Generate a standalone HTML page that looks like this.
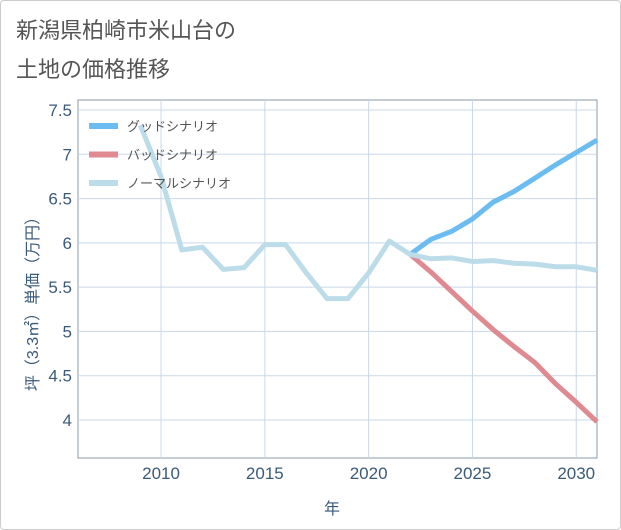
<!DOCTYPE html>
<html><head><meta charset="utf-8"><style>
body{margin:0;background:#fff;font-family:"Liberation Sans","Noto Sans CJK JP",sans-serif}
#wrap{position:relative;width:619px;height:528px;border:1px solid #ccc;border-radius:4px;background:#fff}
</style></head><body>
<div id="wrap">
<svg id="svg" width="621" height="530" style="position:absolute;left:-1px;top:-1px">
<text x="16" y="38" font-size="22" fill="#555">新潟県柏崎市米山台の</text>
<text x="16" y="77" font-size="22" fill="#555">土地の価格推移</text>
<g id="grid"></g><g id="lines"></g><g id="legend"></g>
<text x="0" y="0" transform="translate(38,300) rotate(-90)" text-anchor="middle" font-size="16" fill="#3a5a7a">坪（3.3㎡）単価（万円）</text>
<text x="332" y="514" text-anchor="middle" font-size="16" fill="#3a5a7a">年</text>
</svg></div>
<script>
const years=[2009,2010,2011,2012,2013,2014,2015,2016,2017,2018,2019,2020,2021,2022,2023,2024,2025,2026,2027,2028,2029,2030,2031];
const normal=[7.33,6.75,5.92,5.95,5.70,5.72,5.98,5.98,5.66,5.37,5.37,5.66,6.02,5.87,5.82,5.83,5.79,5.80,5.77,5.76,5.73,5.73,5.69];
const fYears=[2022,2023,2024,2025,2026,2027,2028,2029,2030,2031];
const good=[5.87,6.04,6.13,6.27,6.46,6.58,6.73,6.88,7.02,7.16];
const bad=[5.87,5.67,5.45,5.23,5.02,4.83,4.65,4.41,4.20,3.98];
const yTicks=[4,4.5,5,5.5,6,6.5,7,7.5];
const yLabels=["4","4.5","5","5.5","6","6.5","7","7.5"];
const xTicks=[2010,2015,2020,2025,2030];
const L=78,R=597,T=100,B=458,x0=2006,x1=2031,y0=3.571,y1=7.613;
const X=v=>L+(v-x0)/(x1-x0)*(R-L);
const Y=v=>B-(v-y0)/(y1-y0)*(B-T);
const NS="http://www.w3.org/2000/svg";
function mk(t,a,p){const e=document.createElementNS(NS,t);for(const k in a)e.setAttribute(k,a[k]);p.appendChild(e);return e;}
const g=document.getElementById('grid');
const bg=mk('rect',{x:L,y:T,width:R-L,height:B-T,fill:'none',stroke:'#8899aa','stroke-width':1},g);


yTicks.forEach((v,i)=>{
 const l=mk('line',{x1:L,x2:R,y1:Y(v),y2:Y(v),stroke:'#c8d8e8'},g);
 
 
 const t=mk('text',{x:L-6,y:Y(v)+6,'text-anchor':'end','font-size':17,fill:'#3a5a7a'},g);t.textContent=yLabels[i];
 
 
});
xTicks.forEach(v=>{
 const l=mk('line',{x1:X(v),x2:X(v),y1:T,y2:B,stroke:'#c8d8e8'},g);
 
 
 const t=mk('text',{x:X(v),y:B+21,'text-anchor':'middle','font-size':17,fill:'#3a5a7a'},g);t.textContent=v;
 
 
});
const lg=document.getElementById('lines');
function line(xs,ys,c,name){const p=mk('polyline',{points:xs.map((x,i)=>X(x)+','+Y(ys[i])).join(' '),fill:'none',stroke:c,'stroke-width':5,'stroke-linejoin':'round'},lg);
 
 }
line(fYears,good,'#6bbcf0','good-scenario-line');
line(fYears,bad,'#de8a90','bad-scenario-line');
line(years,normal,'#bcdcea','normal-scenario-line');
const le=document.getElementById('legend');
[['グッドシナリオ','#6bbcf0'],['バッドシナリオ','#de8a90'],['ノーマルシナリオ','#bcdcea']].forEach((d,i)=>{
 const y=126+i*28.5;
 const r=mk('rect',{x:89,y:y-3,width:29,height:6,fill:d[1]},le);
 
 
 const t=mk('text',{x:127,y:y+5,'font-size':13,fill:'#555'},le);t.textContent=d[0];
 
 
});
</script>
</body></html>
